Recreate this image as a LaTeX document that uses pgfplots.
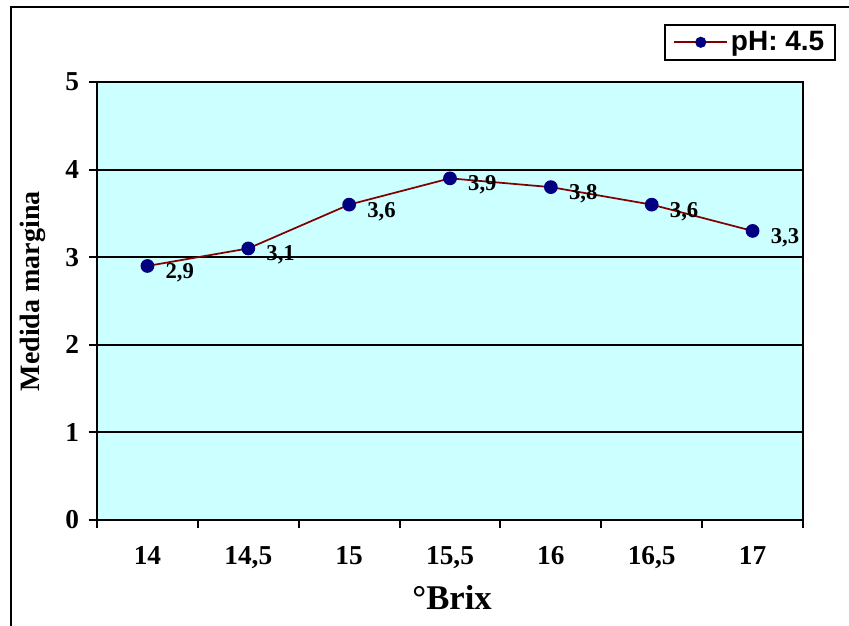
\documentclass[border=0pt]{standalone}
\usepackage{fontspec}
\setmainfont{Liberation Serif}
\newfontfamily\legendfont{Liberation Sans}
\usepackage{pgfplots}
\pgfplotsset{compat=1.18}
\definecolor{plotbg}{HTML}{CCFFFF}
\definecolor{linered}{HTML}{800000}
\definecolor{marknavy}{HTML}{000080}
\begin{document}
\begin{tikzpicture}
% page: 849 x 625 units of 0.75pt
\useasboundingbox (0pt,0pt) rectangle (636.75pt,468.75pt);
% outer chart frame (left and top edges)
\draw[line width=1.5pt] (8.25pt,-10pt) -- (8.25pt,463.5pt) -- (650pt,463.5pt);
\begin{axis}[
  at={(72.75pt,78.75pt)}, anchor=south west,
  scale only axis, width=529.5pt, height=328.5pt,
  xmin=0, xmax=7, ymin=0, ymax=5,
  axis background/.style={fill=plotbg},
  axis line style={line width=1.5pt, black},
  xtick={0.5,1.5,...,6.5},
  xticklabels={14,{14,5},15,{15,5},16,{16,5},17},
  minor xtick={0,1,...,7},
  ytick={0,1,...,5},
  xtick pos=bottom, ytick pos=left,
  tick align=outside,
  major x tick style={draw=none},
  minor x tick style={line width=1.5pt, black},
  y tick style={line width=1.5pt, black},
  minor tick length=6pt, major tick length=6pt,
  ymajorgrids,
  grid style={line width=1.5pt, black},
  /pgf/number format/assume math mode=true,
  tick label style={font=\fontsize{20.5}{24}\selectfont\bfseries, text=black},
  xticklabel style={yshift=-10pt},
  yticklabel style={xshift=-4pt},
  xlabel={\textdegree Brix},
  ylabel={Medida margina},
  every axis x label/.style={at={(axis description cs:0.503,-0.176)}, anchor=center,
    font=\fontsize{26}{30}\selectfont\bfseries},
  every axis y label/.style={at={(axis description cs:-0.0907,0.522)}, anchor=center, rotate=90,
    font=\fontsize{21}{24}\selectfont\bfseries},
  legend style={at={(axis description cs:1.0467,1.1324)}, anchor=north east,
    draw=black, line width=1.5pt, fill=white,
    font=\legendfont\bfseries\fontsize{21}{24}\selectfont,
    inner xsep=6pt, inner ysep=3pt},
  legend image code/.code={
    \draw[#1, line width=1.3pt, mark size=3.5pt, mark repeat=2, mark phase=2]
      plot coordinates {(0pt,0pt) (20pt,0pt) (40pt,0pt)};
  },
  clip=false,
]
\addplot[color=linered, line width=1.3pt,
  mark=*, mark size=4.5pt, mark options={fill=marknavy, draw=marknavy},
  nodes near coords,
  every node near coord/.append style={
    font=\fontsize{17}{20}\selectfont\bfseries, text=black,
    anchor=west, inner sep=0pt, xshift=13pt, yshift=-5pt,
    /pgf/number format/.cd, use comma, fixed, fixed zerofill, precision=1},
] coordinates {
  (0.5,2.9) (1.5,3.1) (2.5,3.6) (3.5,3.9) (4.5,3.8) (5.5,3.6) (6.5,3.3)
};
\addlegendentry{pH: 4.5}
\end{axis}
\end{tikzpicture}
\end{document}
